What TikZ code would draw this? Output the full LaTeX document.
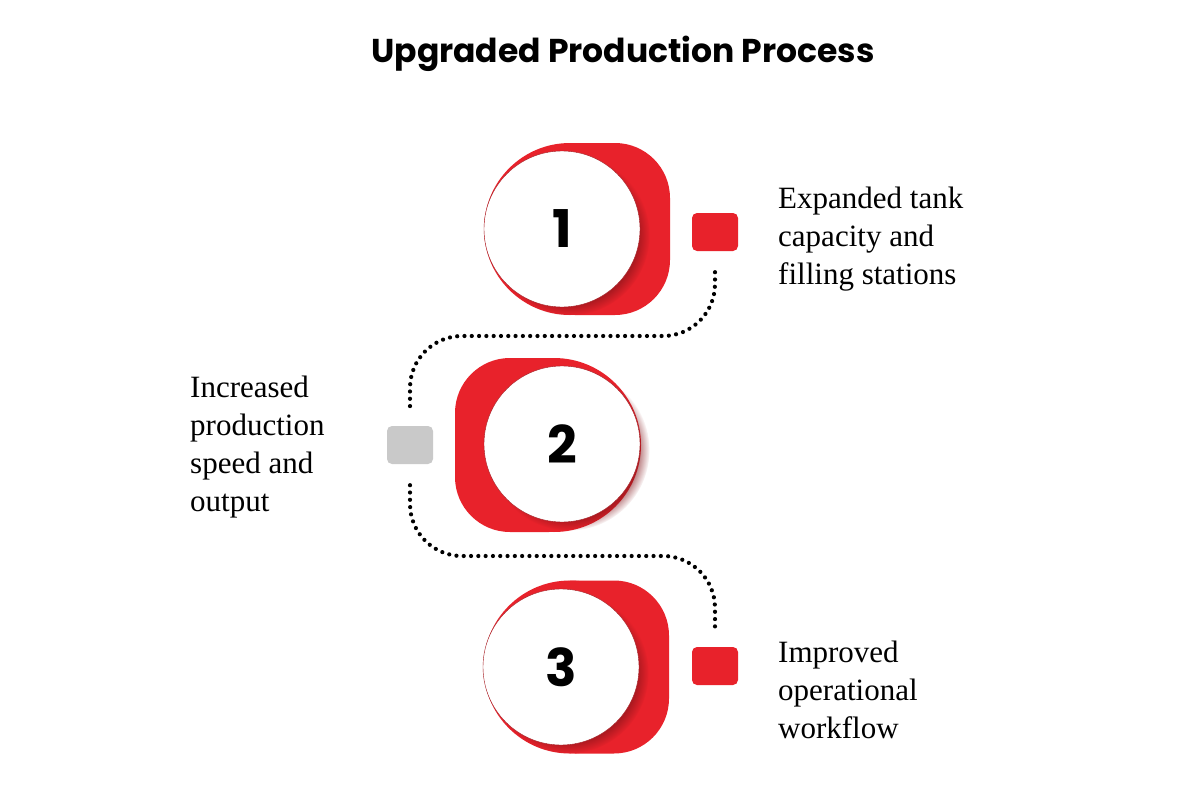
\documentclass[tikz,border=0pt]{standalone}
\usepackage{fontspec}
\setmainfont{Liberation Serif}
\newfontfamily\titlefont{Poppins}
\usetikzlibrary{shadows,calc}
\definecolor{stepred}{HTML}{E8222B}
\definecolor{stepgray}{HTML}{C9C9C9}
\tikzset{
  redblob/.style={fill=stepred, draw=none},
  whitedisc/.style={circle, fill=white, draw=stepred!70!black, line width=0.4pt, minimum size=156pt, inner sep=0pt,
    circular drop shadow={shadow xshift=7pt, shadow yshift=-6pt, shadow scale=1.03, opacity=0.6, fill=stepred!55!black},
    font=\titlefont\bfseries\fontsize{52}{52}\selectfont},
  marker/.style={rectangle, rounded corners=5pt, minimum width=46pt, minimum height=38pt, inner sep=0pt, draw=none},
  dotline/.style={line width=4.2pt, line cap=round, dash pattern=on 0pt off 7.3pt, rounded corners=52pt},
  label/.style={anchor=north west, inner sep=0pt, align=left, font=\fontsize{31}{38}\selectfont},
}
\begin{document}
\begin{tikzpicture}[x=1pt, y=-1pt]
\useasboundingbox[fill=white] (0,0) rectangle (1200,800);

\node[font=\titlefont\bfseries\fontsize{33}{40}\selectfont] (title) at (623,54) {Upgraded Production Process};

% step 1
\fill[redblob] (570,229) circle (86);
\fill[redblob, rounded corners=55pt] (520,143) rectangle (670,315);
\node[whitedisc] (c1) at (562,229) {1};

% step 2
\fill[redblob] (554,445) circle (87);
\fill[redblob, rounded corners=55pt] (455,358) rectangle (604,532);
\node[whitedisc] (c2) at (562,444) {2};

% step 3
\fill[redblob] (570,667) circle (86.5);
\fill[redblob, rounded corners=55pt] (520,580.5) rectangle (669,753.5);
\node[whitedisc] (c3) at (561,667) {3};

% markers
\node[marker, fill=stepred] (sq1) at (715,232) {};
\node[marker, fill=stepgray] (sq2) at (410,445) {};
\node[marker, fill=stepred] (sq3) at (715,666) {};

% dotted connectors
\coordinate (m1) at (560,336);
\coordinate (m2) at (560,556);
\draw[dotline] ([yshift=-21pt]sq1.south) |- (m1) -| ([yshift=19pt]sq2.north);
\draw[dotline] ([yshift=-21pt]sq2.south) |- (m2) -| ([yshift=19pt]sq3.north);

% labels
\node[label] (t1) at (778,187) {Expanded tank\\capacity and\\filling stations};
\node[label] (t2) at (190,376) {Increased\\production\\speed and\\output};
\node[label] (t3) at (778,641) {Improved\\operational\\workflow};
\end{tikzpicture}
\end{document}
